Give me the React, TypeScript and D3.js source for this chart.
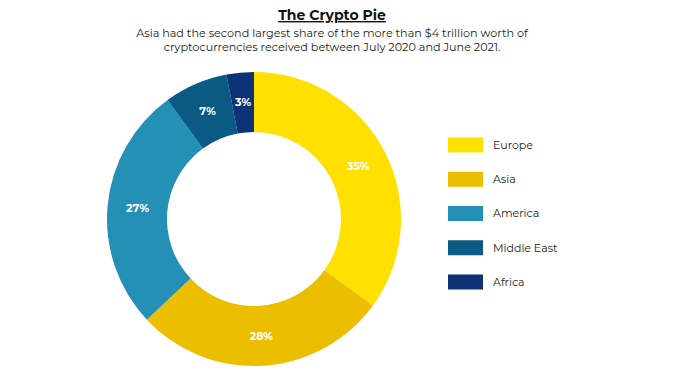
import React from "react";
import * as d3 from "d3";

const categories = ["Europe", "Asia", "America", "Middle East", "Africa"];
const values = [35, 28, 27, 7, 3];
const colors = ["#FFE000", "#EBBE00", "#2590B6", "#0B5A84", "#0B3375"];

const W = 680, H = 383;
const cx = 254, cy = 219, outerR = 147, innerR = 87;

export default function App() {
  const pie = d3.pie<number>().value((d) => d).sort(null);
  const arcs = pie(values);
  const arc = d3.arc<d3.PieArcDatum<number>>().innerRadius(innerR).outerRadius(outerR);
  const legendY = d3.scalePoint<string>().domain(categories).range([145, 282]);
  const font = "Montserrat, 'Open Sans', 'DejaVu Sans', sans-serif";
  return (
    <svg width={W} height={H} style={{ position: "absolute", left: 0, top: 0, background: "#fff" }} fontFamily={font}>
      <rect width={W} height={H} fill="#fff" />
      <text x={332} y={20} textAnchor="middle" fontSize={14} fontWeight={700} fill="#111" textDecoration="underline">The Crypto Pie</text>
      <text x={332} y={37} textAnchor="middle" fontSize={11.2} fill="#222">Asia had the second largest share of the more than $4 trillion worth of</text>
      <text x={332} y={51} textAnchor="middle" fontSize={11.2} fill="#222">cryptocurrencies received between July 2020 and June 2021.</text>
      <g transform={`translate(${cx},${cy})`}>
        {arcs.map((a, i) => (
          <path key={i} d={arc(a) || ""} fill={colors[i]} />
        ))}
        {arcs.map((a, i) => {
          const [x, y] = arc.centroid(a);
          return (
            <text key={"l" + i} x={x} y={y} dy="0.35em" textAnchor="middle" fontSize={11} fontWeight={700} fill="#fff">
              {values[i]}%
            </text>
          );
        })}
      </g>
      {categories.map((c, i) => (
        <g key={c} transform={`translate(448,${legendY(c)})`}>
          <rect x={0} y={-7.5} width={35} height={15} fill={colors[i]} />
          <text x={45} y={0} dy="0.35em" fontSize={11} fill="#222">{c}</text>
        </g>
      ))}
    </svg>
  );
}
